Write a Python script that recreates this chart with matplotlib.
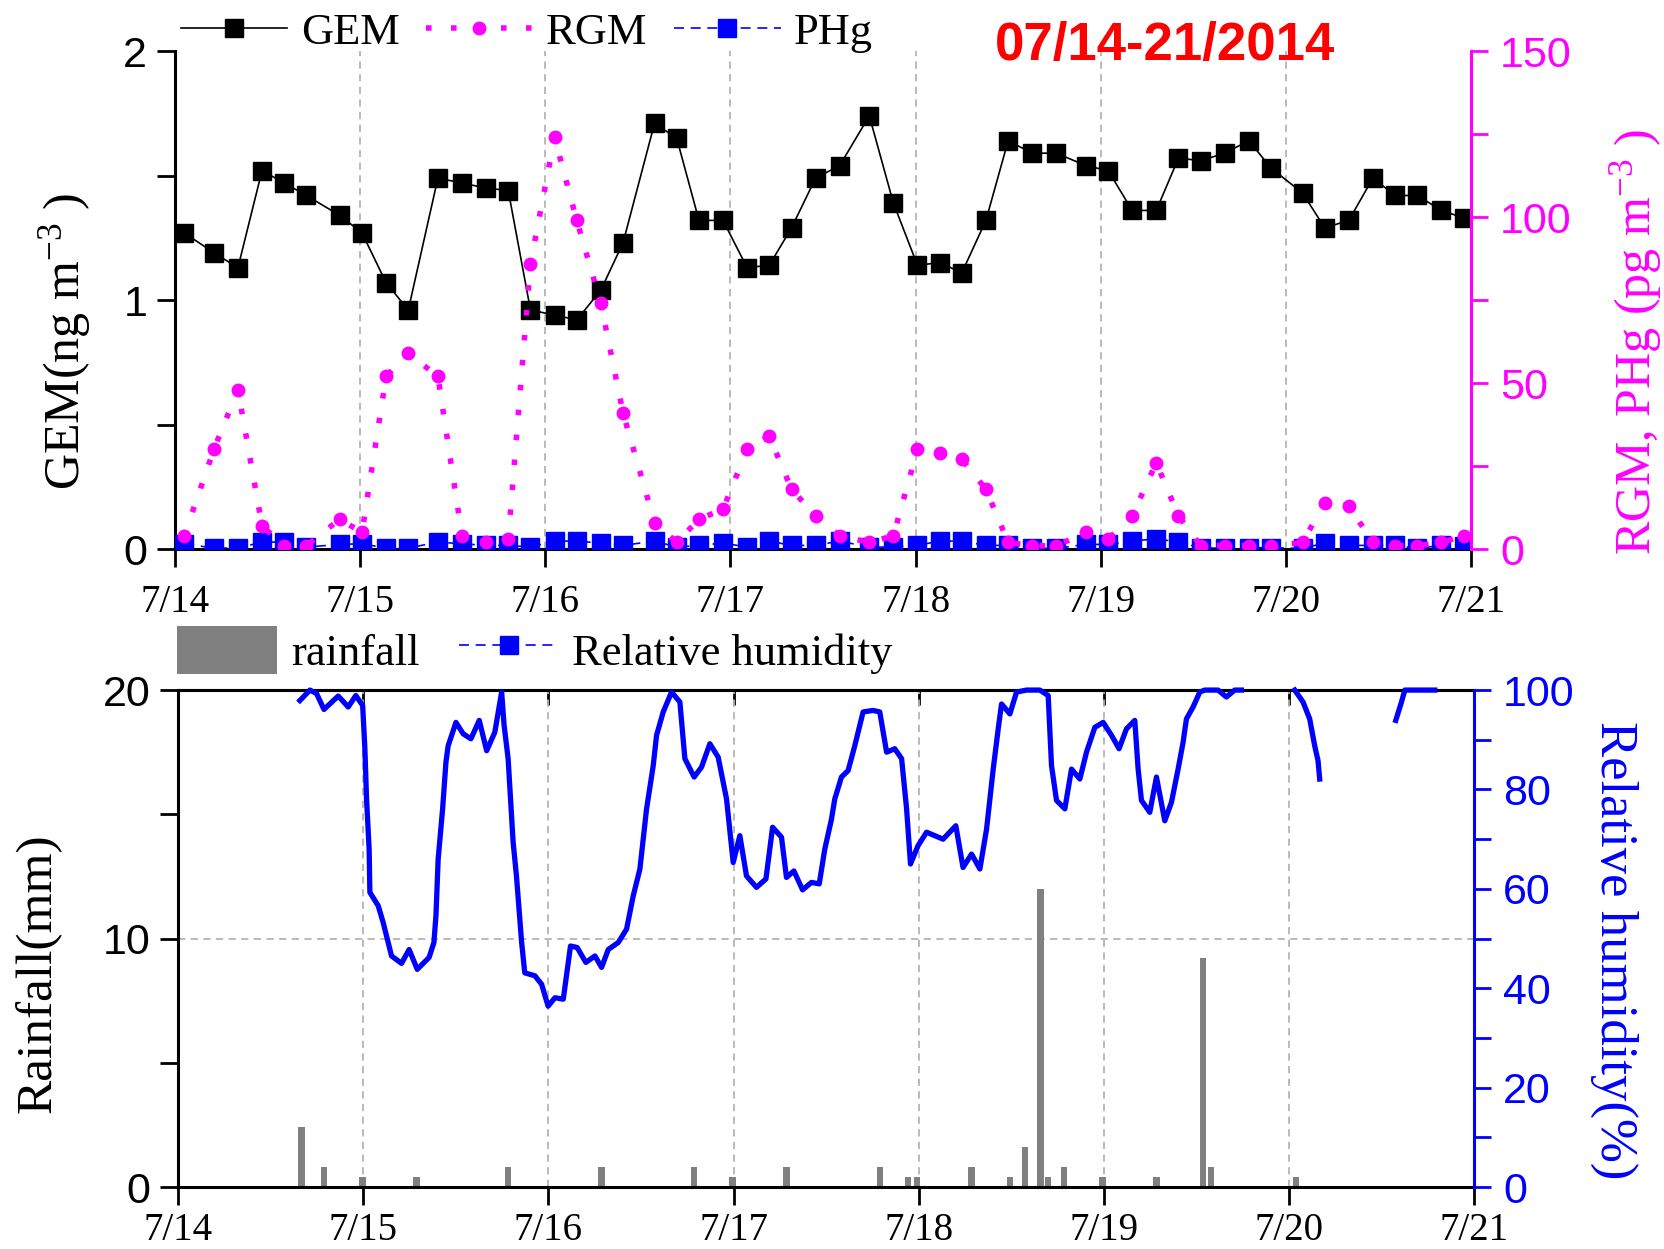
import matplotlib
matplotlib.use('Agg')
import matplotlib.pyplot as plt
from matplotlib.lines import Line2D
import numpy as np

plt.rcParams['font.family'] = 'Liberation Serif'
plt.rcParams['mathtext.fontset'] = 'custom'
plt.rcParams['mathtext.rm'] = 'Liberation Serif'
plt.rcParams['mathtext.it'] = 'Liberation Serif:italic'
plt.rcParams['mathtext.bf'] = 'Liberation Serif:bold'

# x values are days after 7/14 00:00
day_labels = ['7/14', '7/15', '7/16', '7/17', '7/18', '7/19', '7/20', '7/21']

# speciated mercury, 3-hourly samples
hg_t = [0.05, 0.21, 0.34, 0.47, 0.59, 0.71, 0.89, 1.01, 1.14, 1.26,
        1.42, 1.55, 1.68, 1.80, 1.92, 2.05, 2.17, 2.30, 2.42, 2.59,
        2.71, 2.83, 2.96, 3.09, 3.21, 3.33, 3.46, 3.59, 3.75, 3.88,
        4.01, 4.13, 4.25, 4.38, 4.50, 4.63, 4.76, 4.92, 5.04, 5.17,
        5.30, 5.42, 5.54, 5.67, 5.80, 5.92, 6.09, 6.21, 6.34, 6.47,
        6.59, 6.71, 6.84, 6.96]
gem = [1.27, 1.19, 1.13, 1.52, 1.47, 1.42, 1.34, 1.27, 1.07, 0.96,
       1.49, 1.47, 1.45, 1.44, 0.96, 0.94, 0.92, 1.04, 1.23, 1.71,
       1.65, 1.32, 1.32, 1.13, 1.14, 1.29, 1.49, 1.54, 1.74, 1.39,
       1.14, 1.15, 1.11, 1.32, 1.64, 1.59, 1.59, 1.54, 1.52, 1.36,
       1.36, 1.57, 1.56, 1.59, 1.64, 1.53, 1.43, 1.29, 1.32, 1.49,
       1.42, 1.42, 1.36, 1.33]
rgm = [4, 30, 48, 7, 1, 1, 9, 5, 52, 59,
       52, 4, 2, 3, 86, 124, 99, 74, 41, 8,
       2, 9, 12, 30, 34, 18, 10, 4, 2, 4,
       30, 29, 27, 18, 2, 1, 1, 5, 3, 10,
       26, 10, 1, 1, 1, 1, 2, 14, 13, 2,
       1, 1, 2, 4]
phg = [1.6, 0.3, 0.3, 2.1, 2.1, 0.6, 1.4, 1.6, 0.3, 0.3,
       2.1, 1.6, 1.1, 1.1, 0.6, 2.4, 2.4, 1.8, 1.1, 2.4,
       0.6, 1.1, 1.8, 0.6, 2.4, 1.1, 1.1, 2.4, 0.6, 0.6,
       1.1, 2.4, 2.4, 1.1, 1.1, 0.2, 0.2, 1.4, 1.4, 2.4,
       3.1, 2.1, 0.4, 0.2, 0.4, 0.4, 0.2, 1.8, 1.1, 1.1,
       1.1, 0.2, 1.1, 0.8]

# rainfall (mm)
rain_t = [0.666, 0.788, 0.996, 1.287, 1.78, 2.287, 2.787, 2.995, 3.286, 3.790,
          3.943, 3.992, 4.286, 4.493, 4.574, 4.659, 4.700, 4.786, 4.993, 5.285,
          5.537, 5.579, 6.038]
rain = [2.4, 0.8, 0.4, 0.4, 0.8, 0.8, 0.8, 0.4, 0.8, 0.8,
        0.4, 0.4, 0.8, 0.4, 1.6, 12.0, 0.4, 0.8, 0.4, 0.4,
        9.2, 0.8, 0.4]

# relative humidity (%), nan = missing
rh_t = [0.657, 0.711, 0.747, 0.787, 0.864, 0.918, 0.959, 0.996, 1.008, 1.017,
        1.031, 1.035, 1.080, 1.107, 1.152, 1.206, 1.247, 1.291, 1.355, 1.381,
        1.392, 1.404, 1.428, 1.446, 1.458, 1.500, 1.539, 1.581, 1.626, 1.666,
        1.710, 1.747, 1.760, 1.782, 1.800, 1.809, 1.827, 1.855, 1.872, 1.927,
        1.963, 1.998, 2.035, 2.080, 2.119, 2.155, 2.202, 2.251, 2.287, 2.323,
        2.377, 2.422, 2.458, 2.494, 2.530, 2.566, 2.584, 2.620, 2.665, 2.710,
        2.737, 2.787, 2.827, 2.872, 2.917, 2.962, 2.998, 3.034, 3.070, 3.124,
        3.175, 3.211, 3.259, 3.286, 3.326, 3.373, 3.421, 3.463, 3.493, 3.529,
        3.547, 3.583, 3.619, 3.655, 3.700, 3.754, 3.790, 3.827, 3.871, 3.908,
        3.935, 3.956, 3.997, 4.043, 4.132, 4.201, 4.240, 4.286, 4.331, 4.367,
        4.403, 4.430, 4.448, 4.493, 4.529, 4.583, 4.655, 4.700, 4.718, 4.745,
        4.790, 4.826, 4.871, 4.907, 4.952, 4.997, 5.042, 5.083, 5.123, 5.168,
        5.186, 5.204, 5.249, 5.285, 5.330, 5.366, 5.402, 5.429, 5.447, 5.483,
        5.519, 5.546, 5.618, 5.663, 5.708, 5.744, 5.90, 6.032, 6.077, 6.113,
        6.140, 6.158, 6.167, 6.40, 6.578, 6.609, 6.627, 6.789]
rh = [97.9, 100, 99.3, 96.1, 98.8, 96.6, 98.9, 96.9, 88.2, 78.1,
      68.0, 59.3, 56.6, 53.2, 46.5, 45.0, 47.8, 43.8, 46.2, 49.2,
      54.6, 66.0, 76.1, 85.5, 88.8, 93.5, 91.2, 90.2, 93.9, 87.8,
      91.5, 99.6, 93.0, 86.2, 75.0, 69.4, 62.6, 49.2, 43.1, 42.5,
      40.8, 36.4, 38.1, 37.8, 48.5, 48.2, 45.2, 46.5, 44.2, 47.8,
      49.2, 51.9, 58.6, 64.0, 76.1, 84.8, 90.9, 95.6, 99.6, 97.6,
      86.2, 82.5, 84.5, 89.2, 86.5, 78.1, 65.3, 70.7, 62.6, 60.3,
      62.0, 72.4, 70.4, 62.3, 63.6, 59.8, 61.3, 61.0, 68.0, 74.0,
      78.1, 82.5, 83.8, 88.8, 95.6, 95.9, 95.6, 87.5, 88.2, 86.2,
      76.1, 65.0, 68.7, 71.4, 70.0, 72.7, 64.3, 67.0, 64.0, 72.0,
      84.1, 92.2, 97.2, 95.2, 99.6, 100, 100, 98.9, 84.8, 77.8,
      76.1, 84.1, 82.1, 87.5, 92.5, 93.5, 90.9, 88.2, 92.2, 93.9,
      84.1, 77.8, 75.4, 82.5, 73.7, 77.4, 84.1, 89.5, 94.2, 96.6,
      99.6, 100, 100, 98.6, 100, 100, np.nan, 100, 97.6, 94.2,
      88.8, 85.8, 82.1, np.nan, 93.9, 97.6, 100, 100]

MAG = '#ff00ff'
BLUE = '#0000ff'
GRID = '#b4b4b4'
SANS = 'Liberation Sans'
TICK = 28
YTICK = 31

fig = plt.figure(figsize=(16.65, 12.49), dpi=100)

# ---------------- top panel: mercury ----------------
ax1 = fig.add_axes([0.1051, 0.5604, 0.7784, 0.3987])
ax1r = ax1.twinx()

l_gem, = ax1.plot(hg_t, gem, '-', color='black', lw=1.2, marker='s', ms=13,
                  label='GEM', zorder=3)
l_phg, = ax1r.plot(hg_t, phg, color=BLUE, lw=1.2, ls=(0, (6, 4)), marker='s',
                   ms=13, label='PHg', zorder=2)
l_rgm, = ax1r.plot(hg_t, rgm, color=MAG, lw=4, ls=(0, (1, 3.5)), marker='o',
                   ms=9, label='RGM', zorder=3)

ax1.set_xlim(0, 7)
ax1.set_ylim(0, 2)
ax1r.set_ylim(0, 150)
ax1.set_xticks(range(8))
ax1.set_xticklabels(day_labels)
ax1.set_yticks([0, 1, 2])
ax1.set_yticks([0.5, 1.5], minor=True)
ax1r.set_yticks([0, 50, 100, 150])
ax1r.set_yticks([25, 75, 125], minor=True)
ax1.grid(axis='x', color=GRID, ls=(0, (4, 3)), lw=1.3)

for s in ['top', 'right']:
    ax1.spines[s].set_visible(False)
for s in ['top', 'left', 'bottom']:
    ax1r.spines[s].set_visible(False)
for s in ['left', 'bottom']:
    ax1.spines[s].set_linewidth(2.2)
ax1r.spines['right'].set_linewidth(2.2)
ax1r.spines['right'].set_color(MAG)

ax1.tick_params(which='both', direction='out', width=2, length=13)
ax1.tick_params(axis='x', labelsize=TICK, pad=12)
ax1.tick_params(axis='y', labelsize=YTICK, pad=7)
ax1r.tick_params(which='both', direction='out', width=2, length=12, color=MAG,
                 labelcolor=MAG, labelsize=YTICK, pad=9)
for lab in ax1.get_yticklabels() + ax1r.get_yticklabels():
    lab.set_fontfamily(SANS)

ax1.set_ylabel('GEM(ng m$^{-3}$ )', fontsize=36)
ax1.yaxis.set_label_coords(-0.063, 0.416)
ax1r.set_ylabel('RGM, PHg (pg m$^{-3}$ )', fontsize=36, color=MAG)
ax1r.yaxis.set_label_coords(1.106, 0.416)

fig.legend(handles=[l_gem, l_rgm, l_phg], loc='center left',
           bbox_to_anchor=(0.1085, 0.974), ncol=3, frameon=False,
           fontsize=32, handlelength=2.4, handletextpad=0.3,
           columnspacing=0.6, borderpad=0, borderaxespad=0, numpoints=1)

fig.text(0.6997, 0.963, '07/14-21/2014', color='#ff0000', fontsize=38,
         fontweight='bold', family=SANS, ha='center', va='center')

# ---------------- bottom panel: rainfall + RH ----------------
ax2 = fig.add_axes([0.1071, 0.0496, 0.7781, 0.3979])
ax2r = ax2.twinx()

bars = ax2.bar(rain_t, rain, width=0.035, color='#808080', label='rainfall',
               zorder=2)
ax2r.plot(rh_t, rh, color=BLUE, lw=3.8, zorder=3, clip_on=False)

ax2.set_xlim(0, 7)
ax2.set_ylim(0, 20)
ax2r.set_ylim(0, 100)
ax2.set_xticks(range(8))
ax2.set_xticklabels(day_labels)
ax2.set_yticks([0, 10, 20])
ax2.set_yticks([5, 15], minor=True)
ax2r.set_yticks(range(0, 101, 20))
ax2r.set_yticks(range(10, 100, 20), minor=True)
ax2.grid(color=GRID, ls=(0, (4, 3)), lw=1.3)
ax2.set_axisbelow(True)

ax2.spines['right'].set_visible(False)
for s in ['top', 'left', 'bottom']:
    ax2.spines[s].set_linewidth(2.2)
    ax2r.spines[s].set_visible(False)
ax2r.spines['right'].set_linewidth(2.2)
ax2r.spines['right'].set_color(BLUE)

ax2.tick_params(which='both', direction='out', width=2, length=13)
ax2.tick_params(axis='x', labelsize=TICK, pad=5)
ax2.tick_params(axis='y', labelsize=YTICK, pad=7)
ax2r.tick_params(which='both', direction='out', width=2, length=12, color=BLUE,
                 labelcolor=BLUE, labelsize=YTICK, pad=9)
for lab in ax2.get_yticklabels() + ax2r.get_yticklabels():
    lab.set_fontfamily(SANS)

top_ax = ax2.secondary_xaxis('top')
top_ax.set_xticks(range(1, 7))
top_ax.set_xticklabels([])
top_ax.tick_params(direction='in', width=2, length=11)
top_ax.spines['top'].set_linewidth(2.2)

ax2.set_ylabel('Rainfall(mm)', fontsize=37)
ax2.yaxis.set_label_coords(-0.090, 0.43)
ax2r.set_ylabel('Relative humidity(%)', fontsize=38, color=BLUE,
                rotation=270, va='bottom')
ax2r.yaxis.set_label_coords(1.0895, 0.477)

rh_handle = Line2D([], [], color=BLUE, lw=1.2, ls=(0, (6, 4)), marker='s',
                   ms=13, label='Relative humidity')
fig.legend(handles=[bars, rh_handle], loc='center left',
           bbox_to_anchor=(0.1065, 0.4796), ncol=2, frameon=False,
           fontsize=32, handlelength=2.25, handleheight=1.3, handletextpad=0.3,
           columnspacing=0.9, borderpad=0, borderaxespad=0, numpoints=1)

fig.savefig('out.png', dpi=100)
